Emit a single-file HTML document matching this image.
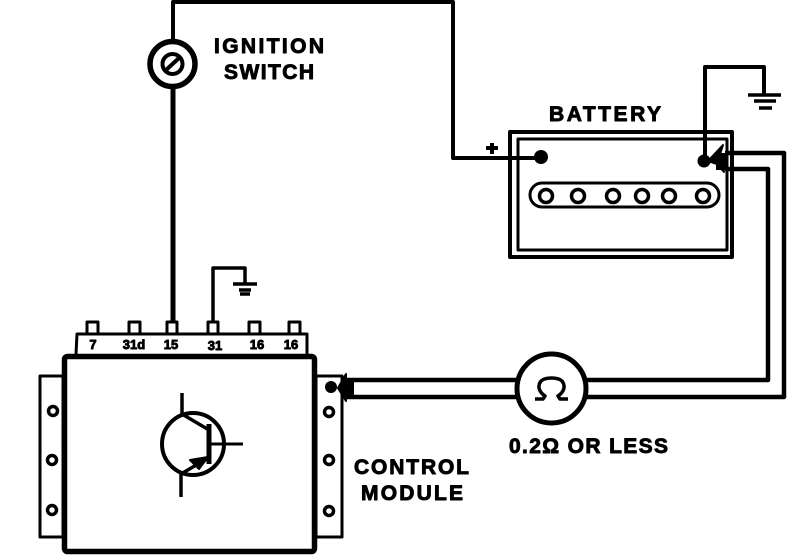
<!DOCTYPE html>
<html><head><meta charset="utf-8"><style>
html,body{margin:0;padding:0;background:#fff}
svg{display:block}
text{font-family:"Liberation Sans",sans-serif;font-weight:bold;fill:#000;stroke:#000;stroke-width:.9}
</style></head><body>
<svg width="800" height="556" viewBox="0 0 800 556" xmlns="http://www.w3.org/2000/svg" fill="none" stroke="#000" stroke-linejoin="round">
<!-- ignition wire -->
<path d="M173 45V2H453V158H535" stroke-width="4"/>
<path d="M173 85V322" stroke-width="5"/>
<circle cx="172.500" cy="64" r="22.500" stroke-width="5.500" fill="#fff"/>
<circle cx="172.500" cy="64" r="10" stroke-width="4"/>
<path d="M166 70L179 58" stroke-width="4"/>
<text x="214" y="53" font-size="21" textLength="110" lengthAdjust="spacing">IGNITION</text>
<text x="224" y="79" font-size="21" textLength="90" lengthAdjust="spacing">SWITCH</text>
<!-- battery -->
<text x="549" y="121" font-size="21" textLength="112" lengthAdjust="spacing">BATTERY</text>
<rect x="510" y="132" width="222" height="125" stroke-width="4"/>
<rect x="518" y="139" width="209" height="111" stroke-width="3"/>
<rect x="530" y="183" width="189" height="24" rx="12" stroke-width="3"/>
<g stroke-width="3.500">
<circle cx="546" cy="196" r="6.500"/><circle cx="578" cy="196" r="6.500"/><circle cx="613" cy="196" r="6.500"/><circle cx="642" cy="196" r="6.500"/><circle cx="669" cy="196" r="6.500"/><circle cx="703" cy="196" r="6.500"/>
</g>
<circle cx="541" cy="157" r="7" fill="#000" stroke="none"/>
<circle cx="704" cy="161" r="6.500" fill="#000" stroke="none"/>
<path d="M486 148H498M492 143V154" stroke-width="4"/>
<path d="M705 156V67H764V94" stroke-width="4"/>
<path d="M748 95H781M754 101H776M759 108H772" stroke-width="3.500"/>
<path d="M708 161L723 145L720 154L724 172L717 164Z" fill="#000" stroke="#000" stroke-width="2"/>
<rect x="716" y="153" width="11" height="17" fill="#000" stroke="none"/>
<!-- double wire -->
<path d="M725 153H784V397H586" stroke-width="4.500"/>
<path d="M725 169H768V380H586" stroke-width="4.500"/>
<path d="M345 380H518M345 397H518" stroke-width="4.500"/>
<!-- ohm meter -->
<circle cx="551.500" cy="388.500" r="34.500" stroke-width="5" fill="#fff"/>
<path d="M535 399H543L545 396C539 392 537 386 541 381C545 377 558 377 562 381C566 386 564 392 558 396L560 399H568" stroke-width="3.500"/>
<text x="509" y="453" font-size="21" textLength="159" lengthAdjust="spacing">0.2Ω OR LESS</text>
<!-- module -->
<path d="M40 376H63V537H40Z" stroke-width="3"/>
<path d="M316 376H342V537H316Z" stroke-width="3"/>
<rect x="64.500" y="356.500" width="250" height="195" rx="3" stroke-width="5.500"/>
<path d="M76 354L77 334H307V354" stroke-width="3"/>
<g stroke-width="3">
<path d="M87 334V322H98V334M129 334V322H140V334M167 334V322H177V334M208 334V322H218V334M249 334V322H260V334M289 334V322H300V334"/>
</g>
<g stroke="#000" stroke-width="3.500">
<circle cx="53" cy="411" r="4.500"/><circle cx="52" cy="460" r="4.500"/><circle cx="52" cy="510" r="4.500"/>
<circle cx="329" cy="412" r="4.500"/><circle cx="329" cy="460" r="4.500"/><circle cx="329" cy="511" r="4.500"/>
</g>
<circle cx="331" cy="387" r="6" fill="#000" stroke="none"/>
<path d="M338 388L346 374V401Z" fill="#000" stroke="#000" stroke-width="2"/>
<rect x="343" y="378" width="11" height="21" fill="#000" stroke="none"/>
<g font-size="13" text-anchor="middle">
<text x="93" y="349">7</text><text x="134" y="349">31d</text><text x="171" y="349">15</text><text x="215" y="350">31</text><text x="257" y="349">16</text><text x="291" y="349">16</text>
</g>
<!-- ground 2 -->
<path d="M213 322V268H245V284" stroke-width="3.500"/>
<path d="M233 284H257M239 290H251M240 294H250" stroke-width="3.500"/>
<!-- transistor -->
<circle cx="193" cy="444" r="31" stroke-width="4"/>
<path d="M182 393V414M181 474V497M182 414L209 430M181 474L208 458" stroke-width="3.500"/>
<path d="M209 424V464" stroke-width="5"/>
<path d="M209 444H243" stroke-width="3"/>
<path d="M190 460L208 457L199 469Z" fill="#000" stroke="#000" stroke-width="2"/>
<text x="354" y="474" font-size="21" textLength="115" lengthAdjust="spacing">CONTROL</text>
<text x="361" y="500" font-size="21" textLength="102" lengthAdjust="spacing">MODULE</text>
</svg>
</body></html>
